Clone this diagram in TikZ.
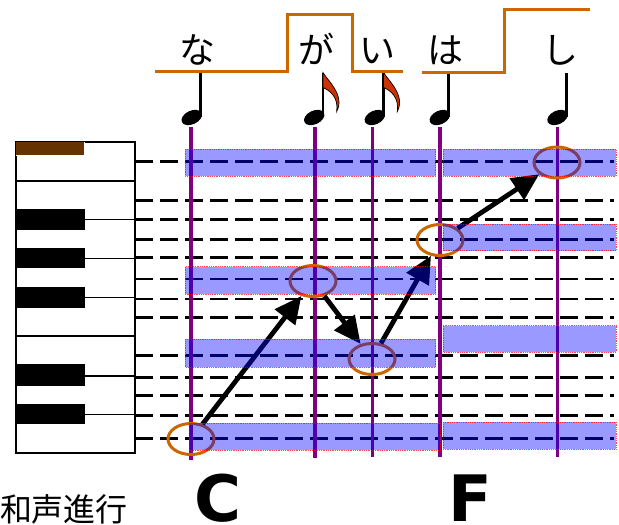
\documentclass[tikz,border=0pt]{standalone}
\usepackage{fontspec}
\newfontfamily\jpfont{Noto Sans CJK JP}
\newfontfamily\dvfont{DejaVu Sans}
\usetikzlibrary{arrows.meta,shapes.geometric}
\definecolor{orng}{RGB}{204,102,0}
\definecolor{purp}{RGB}{128,0,128}
\definecolor{brownkey}{RGB}{102,51,0}
\definecolor{flagc}{RGB}{204,51,0}
\begin{document}
\begin{tikzpicture}[x=1pt,y=-1pt,
  guide/.style={line width=2.7pt, dash pattern=on 18pt off 7pt},
  beat/.style={purp, line width=3.2pt},
  ring/.style={ellipse, draw=orng, line width=3pt, inner sep=0pt, minimum width=46pt, minimum height=31pt},
  band/.style={fill=blue, fill opacity=0.4, draw=red, draw opacity=0.7, densely dotted, line width=0.8pt},
  progarrow/.style={line width=4.8pt, -{Triangle[length=27pt,width=25pt]}},
  contour/.style={orng, line width=3pt},
  kana/.style={font=\jpfont\fontsize{36}{36}\selectfont, anchor=base, inner sep=0pt},
  chord/.style={font=\dvfont\bfseries\fontsize{64}{64}\selectfont, anchor=base, inner sep=0pt},
  keyline/.style={line width=1.3pt},
  qnote/.pic={
    \fill[rotate=25] (0,0) ellipse [x radius=10.8, y radius=6.8];
    \draw[line width=2.6pt] (8.7,-1) -- (8.7,-45);
  },
  enote/.pic={
    \fill[rotate=25] (0,0) ellipse [x radius=10.8, y radius=6.8];
    \draw[line width=2.6pt] (8.7,-1) -- (8.7,-45);
    \filldraw[fill=flagc, draw=black, line width=0.7pt] (8.7,-45) .. controls (13.5,-37) and (31,-22) .. (22.5,-6) .. controls (24.5,-20) and (16,-27) .. (8.7,-30) -- cycle;
  }
]
\useasboundingbox (0,0) rectangle (619,525);

% piano keyboard
\draw[keyline, fill=white] (16,142) rectangle (135,453);
\draw[keyline] (16,181) -- (135,181);
\draw[keyline] (16,336) -- (135,336);
\foreach \a/\b/\m in {209.3/230/219.3, 248.3/268.3/258.3, 287.3/307.7/297.3, 364.3/386/376, 404/424/414.3}{
  \fill (16,\a) rectangle (85,\b);
  \draw[keyline] (85,\m) -- (135,\m);
}
\fill[brownkey] (16,142) rectangle (84,155);
\draw[white, dashed, line width=1pt] (84,142) -- (84,155) -- (16,155);

% pitch guide lines
\foreach \y in {161.7,200.7,219.3,239.3,257.3,279,299,317.3,355.7,377.3,395.7,415.7,438.3}{
  \draw[guide] (135,\y) -- (614,\y);
}

% beat lines
\draw[beat] (191,127) -- (191,460);
\draw[beat] (315,127) -- (315,458);
\draw[beat] (372.7,127) -- (372.7,457);
\draw[beat] (440,127) -- (440,457);
\draw[beat] (557.7,127) -- (557.7,457);

% melody rings
\node[ring] (m1) at (191,439) {};
\node[ring] (m2) at (313,281) {};
\node[ring] (m3) at (372,359) {};
\node[ring] (m4) at (440,240) {};
\node[ring] (m5) at (557,162.5) {};

\draw[progarrow] (m1) -- (m2);
\draw[progarrow] (m2) -- (m3);
\draw[progarrow] (m3) -- (m4);
\draw[progarrow] (m4) -- (m5);

% chord bands
\draw[band] (185,149) rectangle (435.7,176);
\draw[band] (443.3,149) rectangle (616,176);
\draw[band] (185,266.7) rectangle (435.7,294);
\draw[band] (443.3,224.3) rectangle (616,250.7);
\draw[band] (185,339.3) rectangle (435.7,367.3);
\draw[band] (443.3,325.7) rectangle (616,352);
\draw[band] (189,423.3) rectangle (440,450);
\draw[band] (443.3,422) rectangle (616,449.3);

% notes
\pic at (191.7,117.5) {qnote};
\pic at (314.2,117.5) {enote};
\pic at (374.8,117.5) {enote};
\pic at (439.8,117.5) {qnote};
\pic at (557.5,117.5) {qnote};

% pitch accent contour
\draw[contour] (155,71.7) -- (287,71.7) -- (287,14) -- (352.7,14) -- (352.7,71.7) -- (403.3,71.7);
\draw[contour] (421.7,72) -- (504.3,72) -- (504.3,9.3) -- (590,9.3);

% lyrics
\node[kana] (l1) at (197,63) {な};
\node[kana] (l2) at (316.7,63) {が};
\node[kana] (l3) at (377.3,63) {い};
\node[kana] (l4) at (445,63) {は};
\node[kana] (l5) at (560.7,63) {し};

% chords
\node[chord] (ch1) at (218,521) {C};
\node[chord] (ch2) at (470.8,521) {F};
\node[font=\jpfont\fontsize{32}{32}\selectfont, anchor=base, inner sep=0pt] (lab) at (64,521) {和声進行};
\end{tikzpicture}
\end{document}
